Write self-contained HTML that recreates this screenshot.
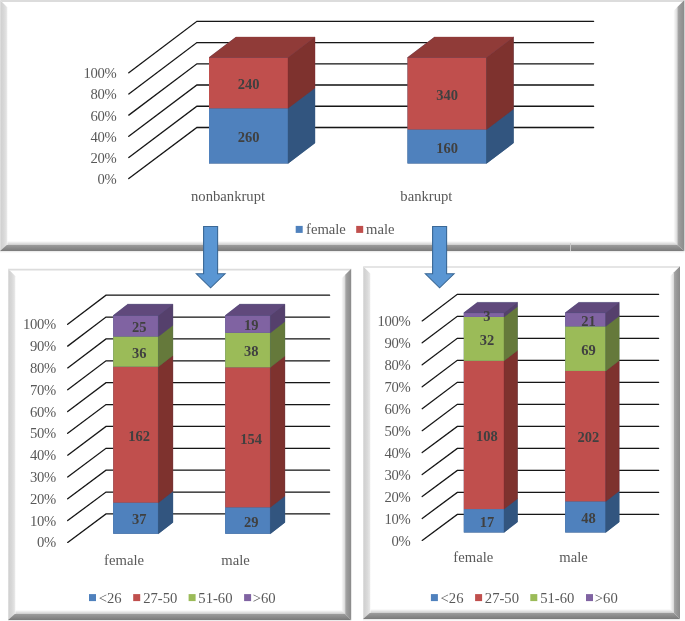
<!DOCTYPE html><html><head><meta charset="utf-8"><style>html,body{margin:0;padding:0;background:#fff;}svg{display:block;}text{font-family:"Liberation Serif",serif;}</style></head><body>
<svg width="685" height="621" viewBox="0 0 685 621">
<defs>
<linearGradient id="lb" x1="0" x2="1" y1="0" y2="0"><stop offset="0" stop-color="#e2e2e2"/><stop offset="0.2" stop-color="#d2d2d2"/><stop offset="0.55" stop-color="#d9d9d9"/><stop offset="0.85" stop-color="#e4e4e4"/><stop offset="1" stop-color="#f4f4f4"/></linearGradient>
<linearGradient id="rb" x1="0" x2="1" y1="0" y2="0"><stop offset="0" stop-color="#a8a8a8"/><stop offset="0.4" stop-color="#999"/><stop offset="1" stop-color="#8a8a8a"/></linearGradient>
<linearGradient id="bb" x1="0" x2="0" y1="0" y2="1"><stop offset="0" stop-color="#9c9c9c"/><stop offset="1" stop-color="#7a7a7a"/></linearGradient>
<linearGradient id="shR" x1="0" x2="1" y1="0" y2="0"><stop offset="0" stop-color="#000" stop-opacity="0"/><stop offset="1" stop-color="#000" stop-opacity="0.16"/></linearGradient>
<linearGradient id="shB" x1="0" x2="0" y1="0" y2="1"><stop offset="0" stop-color="#000" stop-opacity="0"/><stop offset="1" stop-color="#000" stop-opacity="0.2"/></linearGradient>
<linearGradient id="shO" x1="0" x2="0" y1="0" y2="1"><stop offset="0" stop-color="#000" stop-opacity="0.1"/><stop offset="1" stop-color="#000" stop-opacity="0"/></linearGradient>
<filter id="blur" x="0" y="0" width="100%" height="100%"><feGaussianBlur stdDeviation="0.35"/></filter>
<filter id="soft" x="-5%" y="-5%" width="110%" height="110%"><feGaussianBlur stdDeviation="0.5"/></filter>
</defs>
<rect width="685" height="621" fill="#fff"/>
<g filter="url(#blur)">
<g filter="url(#soft)">
<rect x="0" y="251" width="684.4" height="2" fill="url(#shO)"/>
<polygon points="673.4,11 677.4,7 677.4,245 673.4,241" fill="url(#shR)"/>
<polygon points="7.5,241 673.4,241 677.4,245 6.75,245" fill="url(#shB)"/>
<polygon points="0,0 7.5,7.5 7.5,245 0,251" fill="url(#lb)"/>
<polygon points="0,0 684.4,0 682.4,2.0 2.0,2.0" fill="#dcdcdc"/>
<polygon points="684.4,0 684.4,251 677.4,245 677.4,7" fill="url(#rb)"/>
<polygon points="0,251 6.75,245 677.4,245 684.4,251" fill="url(#bb)"/>
<rect x="8" y="620" width="343.2" height="2" fill="url(#shO)"/>
<polygon points="341.2,278.8 345.2,274.8 345.2,614 341.2,610" fill="url(#shR)"/>
<polygon points="15.5,610 341.2,610 345.2,614 14.75,614" fill="url(#shB)"/>
<polygon points="8,268.8 15.5,276.3 15.5,614 8,620" fill="url(#lb)"/>
<polygon points="8,268.8 351.2,268.8 349.59999999999997,270.40000000000003 9.6,270.40000000000003" fill="#dcdcdc"/>
<polygon points="351.2,268.8 351.2,620 345.2,614 345.2,274.8" fill="url(#rb)"/>
<polygon points="8,620 14.75,614 345.2,614 351.2,620" fill="url(#bb)"/>
<rect x="363" y="619" width="317" height="2" fill="url(#shO)"/>
<polygon points="670,276.2 674,272.2 674,613 670,609" fill="url(#shR)"/>
<polygon points="370.5,609 670,609 674,613 369.75,613" fill="url(#shB)"/>
<polygon points="363,266.2 370.5,273.7 370.5,613 363,619" fill="url(#lb)"/>
<polygon points="363,266.2 680,266.2 678.4,267.8 364.6,267.8" fill="#dcdcdc"/>
<polygon points="680,266.2 680,619 674,613 674,272.2" fill="url(#rb)"/>
<polygon points="363,619 369.75,613 674,613 680,619" fill="url(#bb)"/>
<rect x="570" y="243" width="1" height="8" fill="#c8c8c8"/>
</g>
<polyline points="128.80,178.60 196.90,127.50 593.60,127.50" fill="none" stroke="#141414" stroke-width="1.3" stroke-linecap="round"/>
<text x="116.50" y="179.10" dy="0.34em" text-anchor="end" font-size="14.67" letter-spacing="-0.3" fill="#595959">0%</text>
<polyline points="128.80,157.44 196.90,106.26 593.60,106.26" fill="none" stroke="#141414" stroke-width="1.3" stroke-linecap="round"/>
<text x="116.50" y="157.94" dy="0.34em" text-anchor="end" font-size="14.67" letter-spacing="-0.3" fill="#595959">20%</text>
<polyline points="128.80,136.28 196.90,85.02 593.60,85.02" fill="none" stroke="#141414" stroke-width="1.3" stroke-linecap="round"/>
<text x="116.50" y="136.78" dy="0.34em" text-anchor="end" font-size="14.67" letter-spacing="-0.3" fill="#595959">40%</text>
<polyline points="128.80,115.12 196.90,63.78 593.60,63.78" fill="none" stroke="#141414" stroke-width="1.3" stroke-linecap="round"/>
<text x="116.50" y="115.62" dy="0.34em" text-anchor="end" font-size="14.67" letter-spacing="-0.3" fill="#595959">60%</text>
<polyline points="128.80,93.96 196.90,42.54 593.60,42.54" fill="none" stroke="#141414" stroke-width="1.3" stroke-linecap="round"/>
<text x="116.50" y="94.46" dy="0.34em" text-anchor="end" font-size="14.67" letter-spacing="-0.3" fill="#595959">80%</text>
<polyline points="128.80,72.80 196.90,21.30 593.60,21.30" fill="none" stroke="#141414" stroke-width="1.3" stroke-linecap="round"/>
<text x="116.50" y="73.30" dy="0.34em" text-anchor="end" font-size="14.67" letter-spacing="-0.3" fill="#595959">100%</text>
<polygon points="209.00,163.40 209.00,57.50 236.00,37.10 315.00,37.10 315.00,143.00 288.00,163.40" fill="#32557F"/>
<rect x="209.00" y="108.33" width="79.00" height="55.07" fill="#4F81BD"/>
<polygon points="288.00,163.40 315.00,143.00 315.00,87.93 288.00,108.33" fill="#32557F" stroke="#32557F" stroke-width="0.4"/>
<rect x="209.00" y="57.50" width="79.00" height="50.83" fill="#C0504D"/>
<polygon points="288.00,108.33 315.00,87.93 315.00,37.10 288.00,57.50" fill="#7E302E" stroke="#7E302E" stroke-width="0.4"/>
<polygon points="209.00,57.50 236.00,37.10 315.00,37.10 288.00,57.50" fill="#903B39" stroke="#903B39" stroke-width="0.4"/>
<text x="248.50" y="137.17" dy="0.34em" text-anchor="middle" font-weight="bold" font-size="14.5" fill="#404040">260</text>
<text x="248.50" y="84.22" dy="0.34em" text-anchor="middle" font-weight="bold" font-size="14.5" fill="#404040">240</text>
<polygon points="407.50,163.40 407.50,57.50 434.50,37.10 513.50,37.10 513.50,143.00 486.50,163.40" fill="#32557F"/>
<rect x="407.50" y="129.51" width="79.00" height="33.89" fill="#4F81BD"/>
<polygon points="486.50,163.40 513.50,143.00 513.50,109.11 486.50,129.51" fill="#32557F" stroke="#32557F" stroke-width="0.4"/>
<rect x="407.50" y="57.50" width="79.00" height="72.01" fill="#C0504D"/>
<polygon points="486.50,129.51 513.50,109.11 513.50,37.10 486.50,57.50" fill="#7E302E" stroke="#7E302E" stroke-width="0.4"/>
<polygon points="407.50,57.50 434.50,37.10 513.50,37.10 486.50,57.50" fill="#903B39" stroke="#903B39" stroke-width="0.4"/>
<text x="447.00" y="147.76" dy="0.34em" text-anchor="middle" font-weight="bold" font-size="14.5" fill="#404040">160</text>
<text x="447.00" y="94.81" dy="0.34em" text-anchor="middle" font-weight="bold" font-size="14.5" fill="#404040">340</text>
<text x="228.05" y="201" text-anchor="middle" font-size="14.67" fill="#595959">nonbankrupt</text>
<text x="426.4" y="201" text-anchor="middle" font-size="14.67" fill="#595959">bankrupt</text>
<rect x="295.7" y="225.9" width="7" height="7" fill="#4F81BD"/>
<text x="306.00" y="234.4" font-size="14.67" fill="#595959">female</text>
<rect x="356.2" y="225.9" width="7" height="7" fill="#C0504D"/>
<text x="366.10" y="234.4" font-size="14.67" fill="#595959">male</text>
<polyline points="67.70,542.40 106.00,513.90 329.60,513.90" fill="none" stroke="#141414" stroke-width="1.3" stroke-linecap="round"/>
<text x="55.90" y="542.40" dy="0.34em" text-anchor="end" font-size="14.67" letter-spacing="-0.3" fill="#595959">0%</text>
<polyline points="67.70,520.59 106.00,492.03 329.60,492.03" fill="none" stroke="#141414" stroke-width="1.3" stroke-linecap="round"/>
<text x="55.90" y="520.59" dy="0.34em" text-anchor="end" font-size="14.67" letter-spacing="-0.3" fill="#595959">10%</text>
<polyline points="67.70,498.78 106.00,470.16 329.60,470.16" fill="none" stroke="#141414" stroke-width="1.3" stroke-linecap="round"/>
<text x="55.90" y="498.78" dy="0.34em" text-anchor="end" font-size="14.67" letter-spacing="-0.3" fill="#595959">20%</text>
<polyline points="67.70,476.97 106.00,448.29 329.60,448.29" fill="none" stroke="#141414" stroke-width="1.3" stroke-linecap="round"/>
<text x="55.90" y="476.97" dy="0.34em" text-anchor="end" font-size="14.67" letter-spacing="-0.3" fill="#595959">30%</text>
<polyline points="67.70,455.16 106.00,426.42 329.60,426.42" fill="none" stroke="#141414" stroke-width="1.3" stroke-linecap="round"/>
<text x="55.90" y="455.16" dy="0.34em" text-anchor="end" font-size="14.67" letter-spacing="-0.3" fill="#595959">40%</text>
<polyline points="67.70,433.35 106.00,404.55 329.60,404.55" fill="none" stroke="#141414" stroke-width="1.3" stroke-linecap="round"/>
<text x="55.90" y="433.35" dy="0.34em" text-anchor="end" font-size="14.67" letter-spacing="-0.3" fill="#595959">50%</text>
<polyline points="67.70,411.54 106.00,382.68 329.60,382.68" fill="none" stroke="#141414" stroke-width="1.3" stroke-linecap="round"/>
<text x="55.90" y="411.54" dy="0.34em" text-anchor="end" font-size="14.67" letter-spacing="-0.3" fill="#595959">60%</text>
<polyline points="67.70,389.73 106.00,360.81 329.60,360.81" fill="none" stroke="#141414" stroke-width="1.3" stroke-linecap="round"/>
<text x="55.90" y="389.73" dy="0.34em" text-anchor="end" font-size="14.67" letter-spacing="-0.3" fill="#595959">70%</text>
<polyline points="67.70,367.92 106.00,338.94 329.60,338.94" fill="none" stroke="#141414" stroke-width="1.3" stroke-linecap="round"/>
<text x="55.90" y="367.92" dy="0.34em" text-anchor="end" font-size="14.67" letter-spacing="-0.3" fill="#595959">80%</text>
<polyline points="67.70,346.11 106.00,317.07 329.60,317.07" fill="none" stroke="#141414" stroke-width="1.3" stroke-linecap="round"/>
<text x="55.90" y="346.11" dy="0.34em" text-anchor="end" font-size="14.67" letter-spacing="-0.3" fill="#595959">90%</text>
<polyline points="67.70,324.30 106.00,295.20 329.60,295.20" fill="none" stroke="#141414" stroke-width="1.3" stroke-linecap="round"/>
<text x="55.90" y="324.30" dy="0.34em" text-anchor="end" font-size="14.67" letter-spacing="-0.3" fill="#595959">100%</text>
<polygon points="113.20,533.70 113.20,315.50 127.70,304.20 172.90,304.20 172.90,522.40 158.40,533.70" fill="#32557F"/>
<rect x="113.20" y="502.65" width="45.20" height="31.05" fill="#4F81BD"/>
<polygon points="158.40,533.70 172.90,522.40 172.90,491.35 158.40,502.65" fill="#32557F" stroke="#32557F" stroke-width="0.4"/>
<rect x="113.20" y="366.69" width="45.20" height="135.96" fill="#C0504D"/>
<polygon points="158.40,502.65 172.90,491.35 172.90,355.39 158.40,366.69" fill="#7E302E" stroke="#7E302E" stroke-width="0.4"/>
<rect x="113.20" y="336.48" width="45.20" height="30.21" fill="#9BBB59"/>
<polygon points="158.40,366.69 172.90,355.39 172.90,325.18 158.40,336.48" fill="#65793A" stroke="#65793A" stroke-width="0.4"/>
<rect x="113.20" y="315.50" width="45.20" height="20.98" fill="#8064A2"/>
<polygon points="158.40,336.48 172.90,325.18 172.90,304.20 158.40,315.50" fill="#55416C" stroke="#55416C" stroke-width="0.4"/>
<polygon points="113.20,315.50 127.70,304.20 172.90,304.20 158.40,315.50" fill="#614A7C" stroke="#614A7C" stroke-width="0.4"/>
<text x="139.20" y="519.47" dy="0.34em" text-anchor="middle" font-weight="bold" font-size="14.5" fill="#404040">37</text>
<text x="139.20" y="435.97" dy="0.34em" text-anchor="middle" font-weight="bold" font-size="14.5" fill="#404040">162</text>
<text x="139.20" y="352.89" dy="0.34em" text-anchor="middle" font-weight="bold" font-size="14.5" fill="#404040">36</text>
<text x="139.20" y="327.29" dy="0.34em" text-anchor="middle" font-weight="bold" font-size="14.5" fill="#404040">25</text>
<polygon points="225.20,533.70 225.20,315.50 239.70,304.20 284.90,304.20 284.90,522.40 270.40,533.70" fill="#32557F"/>
<rect x="225.20" y="507.33" width="45.20" height="26.37" fill="#4F81BD"/>
<polygon points="270.40,533.70 284.90,522.40 284.90,496.03 270.40,507.33" fill="#32557F" stroke="#32557F" stroke-width="0.4"/>
<rect x="225.20" y="367.32" width="45.20" height="140.01" fill="#C0504D"/>
<polygon points="270.40,507.33 284.90,496.03 284.90,356.02 270.40,367.32" fill="#7E302E" stroke="#7E302E" stroke-width="0.4"/>
<rect x="225.20" y="332.77" width="45.20" height="34.55" fill="#9BBB59"/>
<polygon points="270.40,367.32 284.90,356.02 284.90,321.47 270.40,332.77" fill="#65793A" stroke="#65793A" stroke-width="0.4"/>
<rect x="225.20" y="315.50" width="45.20" height="17.27" fill="#8064A2"/>
<polygon points="270.40,332.77 284.90,321.47 284.90,304.20 270.40,315.50" fill="#55416C" stroke="#55416C" stroke-width="0.4"/>
<polygon points="225.20,315.50 239.70,304.20 284.90,304.20 270.40,315.50" fill="#614A7C" stroke="#614A7C" stroke-width="0.4"/>
<text x="251.20" y="521.82" dy="0.34em" text-anchor="middle" font-weight="bold" font-size="14.5" fill="#404040">29</text>
<text x="251.20" y="438.63" dy="0.34em" text-anchor="middle" font-weight="bold" font-size="14.5" fill="#404040">154</text>
<text x="251.20" y="351.35" dy="0.34em" text-anchor="middle" font-weight="bold" font-size="14.5" fill="#404040">38</text>
<text x="251.20" y="325.44" dy="0.34em" text-anchor="middle" font-weight="bold" font-size="14.5" fill="#404040">19</text>
<text x="124.05" y="565.2" text-anchor="middle" font-size="14.67" fill="#595959">female</text>
<text x="235.6" y="565.2" text-anchor="middle" font-size="14.67" fill="#595959">male</text>
<rect x="89" y="594.1" width="7" height="7" fill="#4F81BD"/>
<text x="98.70" y="603.3" font-size="14.67" fill="#595959">&lt;26</text>
<rect x="133.2" y="594.1" width="7" height="7" fill="#C0504D"/>
<text x="143.20" y="603.3" font-size="14.67" fill="#595959">27-50</text>
<rect x="188.6" y="594.1" width="7" height="7" fill="#9BBB59"/>
<text x="198.30" y="603.3" font-size="14.67" fill="#595959">51-60</text>
<rect x="244.1" y="594.1" width="7" height="7" fill="#8064A2"/>
<text x="252.70" y="603.3" font-size="14.67" fill="#595959">&gt;60</text>
<polyline points="422.20,540.40 457.30,514.40 658.60,514.40" fill="none" stroke="#141414" stroke-width="1.3" stroke-linecap="round"/>
<text x="410.40" y="540.60" dy="0.34em" text-anchor="end" font-size="14.67" letter-spacing="-0.3" fill="#595959">0%</text>
<polyline points="422.20,518.45 457.30,492.39 658.60,492.39" fill="none" stroke="#141414" stroke-width="1.3" stroke-linecap="round"/>
<text x="410.40" y="518.65" dy="0.34em" text-anchor="end" font-size="14.67" letter-spacing="-0.3" fill="#595959">10%</text>
<polyline points="422.20,496.50 457.30,470.38 658.60,470.38" fill="none" stroke="#141414" stroke-width="1.3" stroke-linecap="round"/>
<text x="410.40" y="496.70" dy="0.34em" text-anchor="end" font-size="14.67" letter-spacing="-0.3" fill="#595959">20%</text>
<polyline points="422.20,474.55 457.30,448.37 658.60,448.37" fill="none" stroke="#141414" stroke-width="1.3" stroke-linecap="round"/>
<text x="410.40" y="474.75" dy="0.34em" text-anchor="end" font-size="14.67" letter-spacing="-0.3" fill="#595959">30%</text>
<polyline points="422.20,452.60 457.30,426.36 658.60,426.36" fill="none" stroke="#141414" stroke-width="1.3" stroke-linecap="round"/>
<text x="410.40" y="452.80" dy="0.34em" text-anchor="end" font-size="14.67" letter-spacing="-0.3" fill="#595959">40%</text>
<polyline points="422.20,430.65 457.30,404.35 658.60,404.35" fill="none" stroke="#141414" stroke-width="1.3" stroke-linecap="round"/>
<text x="410.40" y="430.85" dy="0.34em" text-anchor="end" font-size="14.67" letter-spacing="-0.3" fill="#595959">50%</text>
<polyline points="422.20,408.70 457.30,382.34 658.60,382.34" fill="none" stroke="#141414" stroke-width="1.3" stroke-linecap="round"/>
<text x="410.40" y="408.90" dy="0.34em" text-anchor="end" font-size="14.67" letter-spacing="-0.3" fill="#595959">60%</text>
<polyline points="422.20,386.75 457.30,360.33 658.60,360.33" fill="none" stroke="#141414" stroke-width="1.3" stroke-linecap="round"/>
<text x="410.40" y="386.95" dy="0.34em" text-anchor="end" font-size="14.67" letter-spacing="-0.3" fill="#595959">70%</text>
<polyline points="422.20,364.80 457.30,338.32 658.60,338.32" fill="none" stroke="#141414" stroke-width="1.3" stroke-linecap="round"/>
<text x="410.40" y="365.00" dy="0.34em" text-anchor="end" font-size="14.67" letter-spacing="-0.3" fill="#595959">80%</text>
<polyline points="422.20,342.85 457.30,316.31 658.60,316.31" fill="none" stroke="#141414" stroke-width="1.3" stroke-linecap="round"/>
<text x="410.40" y="343.05" dy="0.34em" text-anchor="end" font-size="14.67" letter-spacing="-0.3" fill="#595959">90%</text>
<polyline points="422.20,320.90 457.30,294.30 658.60,294.30" fill="none" stroke="#141414" stroke-width="1.3" stroke-linecap="round"/>
<text x="410.40" y="321.10" dy="0.34em" text-anchor="end" font-size="14.67" letter-spacing="-0.3" fill="#595959">100%</text>
<polygon points="463.80,532.40 463.80,312.80 477.30,302.40 517.50,302.40 517.50,522.00 504.00,532.40" fill="#32557F"/>
<rect x="463.80" y="509.07" width="40.20" height="23.33" fill="#4F81BD"/>
<polygon points="504.00,532.40 517.50,522.00 517.50,498.67 504.00,509.07" fill="#32557F" stroke="#32557F" stroke-width="0.4"/>
<rect x="463.80" y="360.84" width="40.20" height="148.23" fill="#C0504D"/>
<polygon points="504.00,509.07 517.50,498.67 517.50,350.44 504.00,360.84" fill="#7E302E" stroke="#7E302E" stroke-width="0.4"/>
<rect x="463.80" y="316.92" width="40.20" height="43.92" fill="#9BBB59"/>
<polygon points="504.00,360.84 517.50,350.44 517.50,306.52 504.00,316.92" fill="#65793A" stroke="#65793A" stroke-width="0.4"/>
<rect x="463.80" y="312.80" width="40.20" height="4.12" fill="#8064A2"/>
<polygon points="504.00,316.92 517.50,306.52 517.50,302.40 504.00,312.80" fill="#55416C" stroke="#55416C" stroke-width="0.4"/>
<polygon points="463.80,312.80 477.30,302.40 517.50,302.40 504.00,312.80" fill="#614A7C" stroke="#614A7C" stroke-width="0.4"/>
<text x="486.90" y="522.03" dy="0.34em" text-anchor="middle" font-weight="bold" font-size="14.5" fill="#404040">17</text>
<text x="486.90" y="436.25" dy="0.34em" text-anchor="middle" font-weight="bold" font-size="14.5" fill="#404040">108</text>
<text x="486.90" y="340.18" dy="0.34em" text-anchor="middle" font-weight="bold" font-size="14.5" fill="#404040">32</text>
<text x="486.90" y="316.16" dy="0.34em" text-anchor="middle" font-weight="bold" font-size="14.5" fill="#404040">3</text>
<polygon points="565.20,532.40 565.20,312.80 578.70,302.40 619.20,302.40 619.20,522.00 605.70,532.40" fill="#32557F"/>
<rect x="565.20" y="501.40" width="40.50" height="31.00" fill="#4F81BD"/>
<polygon points="605.70,532.40 619.20,522.00 619.20,491.00 605.70,501.40" fill="#32557F" stroke="#32557F" stroke-width="0.4"/>
<rect x="565.20" y="370.93" width="40.50" height="130.47" fill="#C0504D"/>
<polygon points="605.70,501.40 619.20,491.00 619.20,360.53 605.70,370.93" fill="#7E302E" stroke="#7E302E" stroke-width="0.4"/>
<rect x="565.20" y="326.36" width="40.50" height="44.57" fill="#9BBB59"/>
<polygon points="605.70,370.93 619.20,360.53 619.20,315.96 605.70,326.36" fill="#65793A" stroke="#65793A" stroke-width="0.4"/>
<rect x="565.20" y="312.80" width="40.50" height="13.56" fill="#8064A2"/>
<polygon points="605.70,326.36 619.20,315.96 619.20,302.40 605.70,312.80" fill="#55416C" stroke="#55416C" stroke-width="0.4"/>
<polygon points="565.20,312.80 578.70,302.40 619.20,302.40 605.70,312.80" fill="#614A7C" stroke="#614A7C" stroke-width="0.4"/>
<text x="588.45" y="518.20" dy="0.34em" text-anchor="middle" font-weight="bold" font-size="14.5" fill="#404040">48</text>
<text x="588.45" y="437.46" dy="0.34em" text-anchor="middle" font-weight="bold" font-size="14.5" fill="#404040">202</text>
<text x="588.45" y="349.95" dy="0.34em" text-anchor="middle" font-weight="bold" font-size="14.5" fill="#404040">69</text>
<text x="588.45" y="320.88" dy="0.34em" text-anchor="middle" font-weight="bold" font-size="14.5" fill="#404040">21</text>
<text x="473.3" y="562.4" text-anchor="middle" font-size="14.67" fill="#595959">female</text>
<text x="573.55" y="562.4" text-anchor="middle" font-size="14.67" fill="#595959">male</text>
<rect x="430.9" y="594.1" width="7" height="7" fill="#4F81BD"/>
<text x="440.60" y="603.3" font-size="14.67" fill="#595959">&lt;26</text>
<rect x="475.1" y="594.1" width="7" height="7" fill="#C0504D"/>
<text x="484.80" y="603.3" font-size="14.67" fill="#595959">27-50</text>
<rect x="530.3" y="594.1" width="7" height="7" fill="#9BBB59"/>
<text x="540.20" y="603.3" font-size="14.67" fill="#595959">51-60</text>
<rect x="586" y="594.1" width="7" height="7" fill="#8064A2"/>
<text x="594.80" y="603.3" font-size="14.67" fill="#595959">&gt;60</text>
<polygon points="203.6,226.5 217.6,226.5 217.6,273.8 225.0,273.8 210.6,287.8 196.39999999999998,273.8 203.6,273.8" fill="#5A96D3" stroke="#3A6896" stroke-width="1.1" stroke-linejoin="miter"/>
<polygon points="432.59999999999997,226.5 446.59999999999997,226.5 446.59999999999997,273.8 454.0,273.8 439.59999999999997,287.8 425.4,273.8 432.59999999999997,273.8" fill="#5A96D3" stroke="#3A6896" stroke-width="1.1" stroke-linejoin="miter"/>
</g>
</svg></body></html>
